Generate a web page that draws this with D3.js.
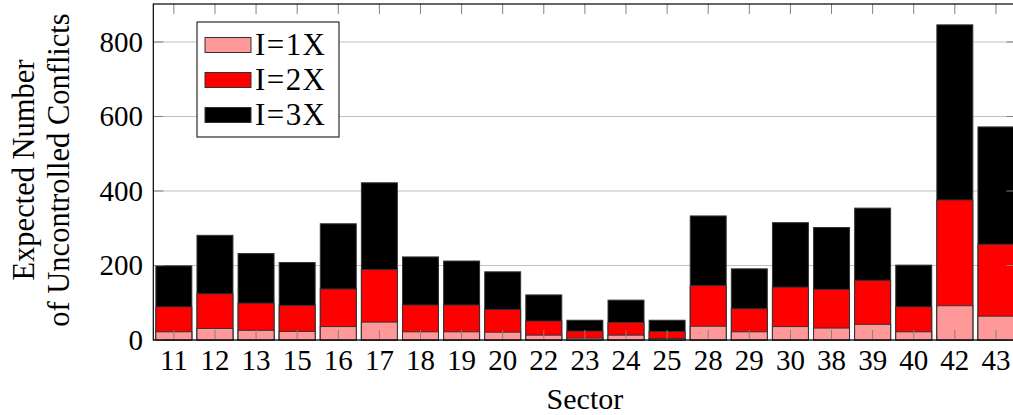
<!DOCTYPE html>
<html>
<head>
<meta charset="utf-8">
<script src="https://cdn.jsdelivr.net/npm/d3@7"></script>
<style>
  body { margin: 0; background: #fff; }
  text { font-family: "Liberation Serif", "Times New Roman", serif; fill: #000; }
</style>
</head>
<body>
<svg id="chart" width="1013" height="415"></svg>
<script>
// sectors and expected uncontrolled conflicts per intensity level
const sectors = ['11', '12', '13', '15', '16', '17', '18', '19', '20', '22', '23', '24', '25', '28', '29', '30', '38', '39', '40', '42', '43'];
const i1x = [22, 31, 26, 23, 36, 48, 22, 22, 21, 13, 5, 13, 4, 37, 22, 36, 32, 42, 22, 92, 64];
const i2x = [89, 124, 99, 93, 137, 189, 94, 94, 82, 51, 24, 47, 23, 146, 84, 142, 136, 160, 89, 376, 257];
const i3x = [199, 281, 232, 208, 312, 422, 223, 212, 183, 121, 53, 107, 53, 333, 191, 315, 302, 354, 201, 846, 572];
const yTicks = [0, 200, 400, 600, 800];

const series = [
    { name: 'I=1X', values: i1x, color: '#ff9999' },
    { name: 'I=2X', values: i2x, color: '#ff0000' },
    { name: 'I=3X', values: i3x, color: '#000000' }
];

const svg = d3.select('#chart');
const plotLeft = 153.3, plotRight = 1016.5, plotTop = 4, plotBottom = 340;

const x = d3.scaleBand()
    .domain(sectors)
    .range([plotLeft, plotRight])
    .paddingInner(0.125)
    .paddingOuter(0.0625);

const y = d3.scaleLinear()
    .domain([0, 902])
    .range([plotBottom, plotTop]);

// grid lines
svg.append('g')
    .selectAll('line')
    .data(yTicks)
    .join('line')
    .attr('x1', plotLeft)
    .attr('x2', plotRight)
    .attr('y1', d => y(d))
    .attr('y2', d => y(d))
    .attr('stroke', '#c0c0c0')
    .attr('stroke-width', 1);

// bars: tallest first so the smaller ones sit in front
[...series].reverse().forEach(s => {
    svg.append('g')
        .selectAll('rect')
        .data(sectors)
        .join('rect')
        .attr('x', d => x(d))
        .attr('width', x.bandwidth())
        .attr('y', (d, i) => y(s.values[i]))
        .attr('height', (d, i) => y(0) - y(s.values[i]))
        .attr('fill', s.color)
        .attr('stroke', '#333')
        .attr('stroke-width', 1);
});

// ticks (inward, both sides)
const tickLen = 10;
const ticks = svg.append('g').attr('stroke', '#808080').attr('stroke-width', 1);
sectors.forEach(s => {
    const cx = x(s) + x.bandwidth() / 2;
    ticks.append('line').attr('x1', cx).attr('x2', cx).attr('y1', plotBottom).attr('y2', plotBottom - tickLen);
    ticks.append('line').attr('x1', cx).attr('x2', cx).attr('y1', plotTop).attr('y2', plotTop + tickLen);
});
yTicks.forEach(t => {
    ticks.append('line').attr('x1', plotLeft).attr('x2', plotLeft + tickLen).attr('y1', y(t)).attr('y2', y(t));
    ticks.append('line').attr('x1', plotRight).attr('x2', plotRight - tickLen).attr('y1', y(t)).attr('y2', y(t));
});

// frame
svg.append('rect')
    .attr('x', plotLeft)
    .attr('y', plotTop)
    .attr('width', plotRight - plotLeft)
    .attr('height', plotBottom - plotTop)
    .attr('fill', 'none')
    .attr('stroke', '#000')
    .attr('stroke-width', 1.2);

// tick labels
svg.append('g')
    .selectAll('text')
    .data(sectors)
    .join('text')
    .attr('x', d => x(d) + x.bandwidth() / 2)
    .attr('y', 370)
    .attr('text-anchor', 'middle')
    .attr('font-size', 29)
    .text(d => d);

svg.append('g')
    .selectAll('text')
    .data(yTicks)
    .join('text')
    .attr('x', 143)
    .attr('y', d => y(d))
    .attr('dy', '0.33em')
    .attr('text-anchor', 'end')
    .attr('font-size', 29)
    .text(d => d);

// axis titles
svg.append('text')
    .attr('x', (plotLeft + plotRight) / 2)
    .attr('y', 409)
    .attr('text-anchor', 'middle')
    .attr('font-size', 30)
    .text('Sector');

const yTitle = svg.append('text')
    .attr('transform', `translate(0, 170) rotate(-90)`)
    .attr('text-anchor', 'middle')
    .attr('font-size', 30.5);
yTitle.append('tspan').attr('x', 0).attr('y', 34).text('Expected Number');
yTitle.append('tspan').attr('x', 0).attr('y', 69).text('of Uncontrolled Conflicts');

// legend
const legend = svg.append('g').attr('transform', 'translate(197, 22)');
legend.append('rect')
    .attr('width', 142)
    .attr('height', 115)
    .attr('fill', '#fff')
    .attr('stroke', '#000')
    .attr('stroke-width', 1);

const rows = legend.selectAll('g.row')
    .data(series)
    .join('g')
    .attr('class', 'row')
    .attr('transform', (d, i) => `translate(8, ${23 + i * 35})`);

rows.append('rect')
    .attr('y', -7.5)
    .attr('width', 46)
    .attr('height', 15)
    .attr('fill', d => d.color)
    .attr('stroke', '#333');

rows.append('text')
    .attr('x', 50)
    .attr('dy', '0.33em')
    .attr('font-size', 31)
    .attr('textLength', 70)
    .text(d => d.name);
</script>
</body>
</html>
